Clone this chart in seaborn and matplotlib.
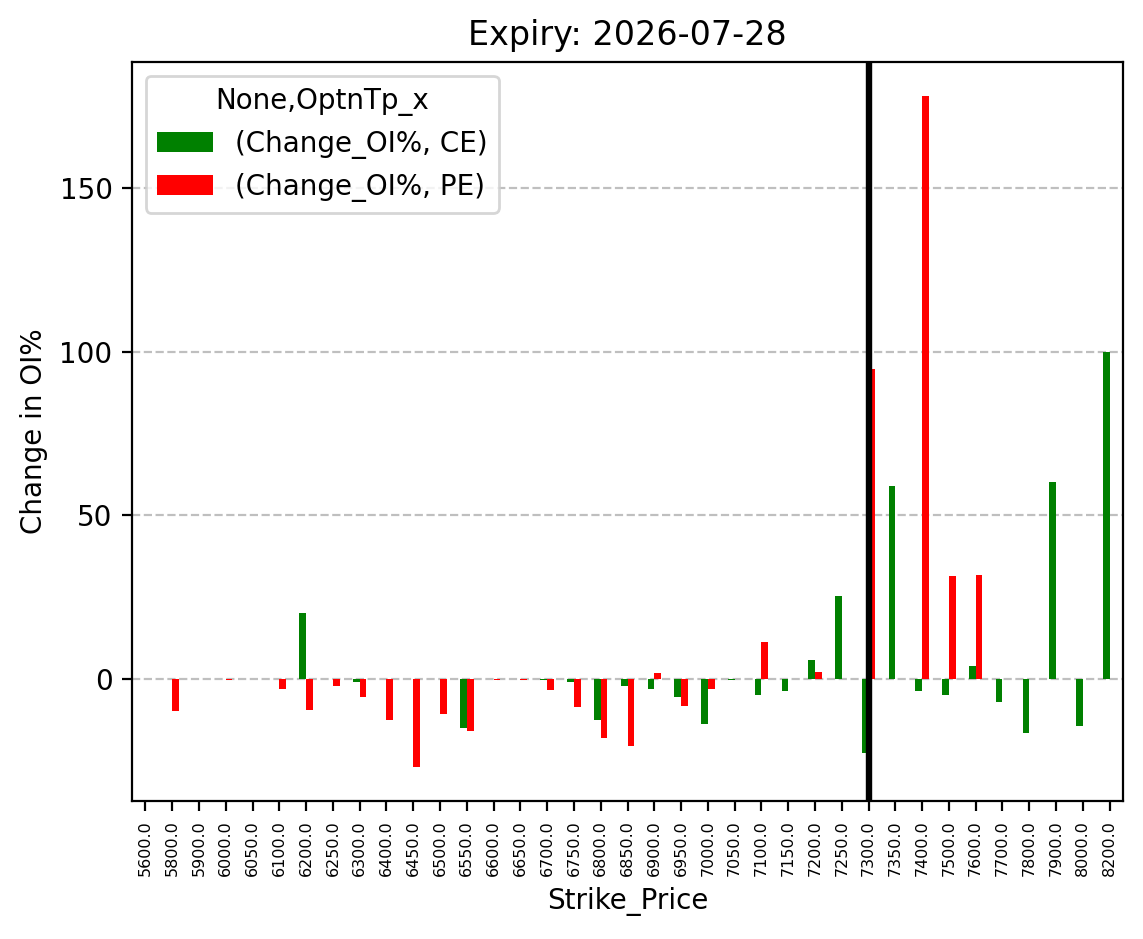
import numpy as np
import pandas as pd
import seaborn as sns
import matplotlib
matplotlib.use("Agg")
import matplotlib.pyplot as plt

nan = np.nan

# strike prices (x categories)
strikes = [5600, 5800, 5900, 6000, 6050, 6100, 6200, 6250, 6300, 6400,
           6450, 6500, 6550, 6600, 6650, 6700, 6750, 6800, 6850, 6900,
           6950, 7000, 7050, 7100, 7150, 7200, 7250, 7300, 7350, 7400,
           7500, 7600, 7700, 7800, 7900, 8000, 8200]

# change in open interest (%) for calls and puts
ce_change = [nan, nan, nan, nan, nan, nan, 20.0, nan, -1.1, nan,
             nan, nan, -15.2, nan, nan, -0.5, -1.1, -12.7, -2.3, -3.0,
             -5.7, -13.7, -0.3, -5.1, -3.9, 5.6, 25.2, -22.8, 59.0, -3.9,
             -5.1, 3.9, -7.2, -16.7, 60.0, -14.3, 100.0]
pe_change = [nan, -10.0, nan, -0.3, nan, -3.0, -9.7, -2.3, -5.7, -12.7,
             -27.1, -10.9, -16.1, -0.3, -0.3, -3.3, -8.5, -18.2, -20.7, 1.8,
             -8.2, -3.0, nan, 11.1, nan, 2.1, nan, 94.8, nan, 178.3,
             31.5, 31.8, nan, nan, nan, nan, nan]

series_labels = ["(Change_OI%, CE)", "(Change_OI%, PE)"]
series_colors = ["green", "red"]
spot_strike = 7300
expiry = "2026-07-28"

strike_labels = [f"{float(s):.1f}" for s in strikes]

df = pd.DataFrame({
    "Strike_Price": strike_labels,
    series_labels[0]: ce_change,
    series_labels[1]: pe_change,
})
long_df = df.melt(id_vars="Strike_Price", var_name="series", value_name="change")
long_df = long_df.dropna(subset=["change"])

fig = plt.figure(figsize=(1143 / 200, 939 / 200), dpi=200)
ax = fig.add_axes([0.1155, 0.147, 0.867, 0.787])

sns.barplot(data=long_df, x="Strike_Price", y="change", hue="series",
            order=strike_labels, hue_order=series_labels,
            palette=series_colors, saturation=1, width=0.5, gap=0,
            errorbar=None, linewidth=0, ax=ax)

# marker for the current strike
ax.axvline(strike_labels.index(f"{float(spot_strike):.1f}"), color="black",
           linewidth=2.3, zorder=5)

ax.grid(axis="y", linestyle="--", color="gray", alpha=0.5)
ax.set_axisbelow(True)
ax.set_title(f"Expiry: {expiry}", fontsize=12)
ax.set_xlabel("Strike_Price")
ax.set_ylabel("Change in OI%")
ax.tick_params(axis="x", labelsize="xx-small", labelrotation=90)
ax.legend(title="None,OptnTp_x", loc="upper left")

fig.savefig("out.png", dpi=200)
